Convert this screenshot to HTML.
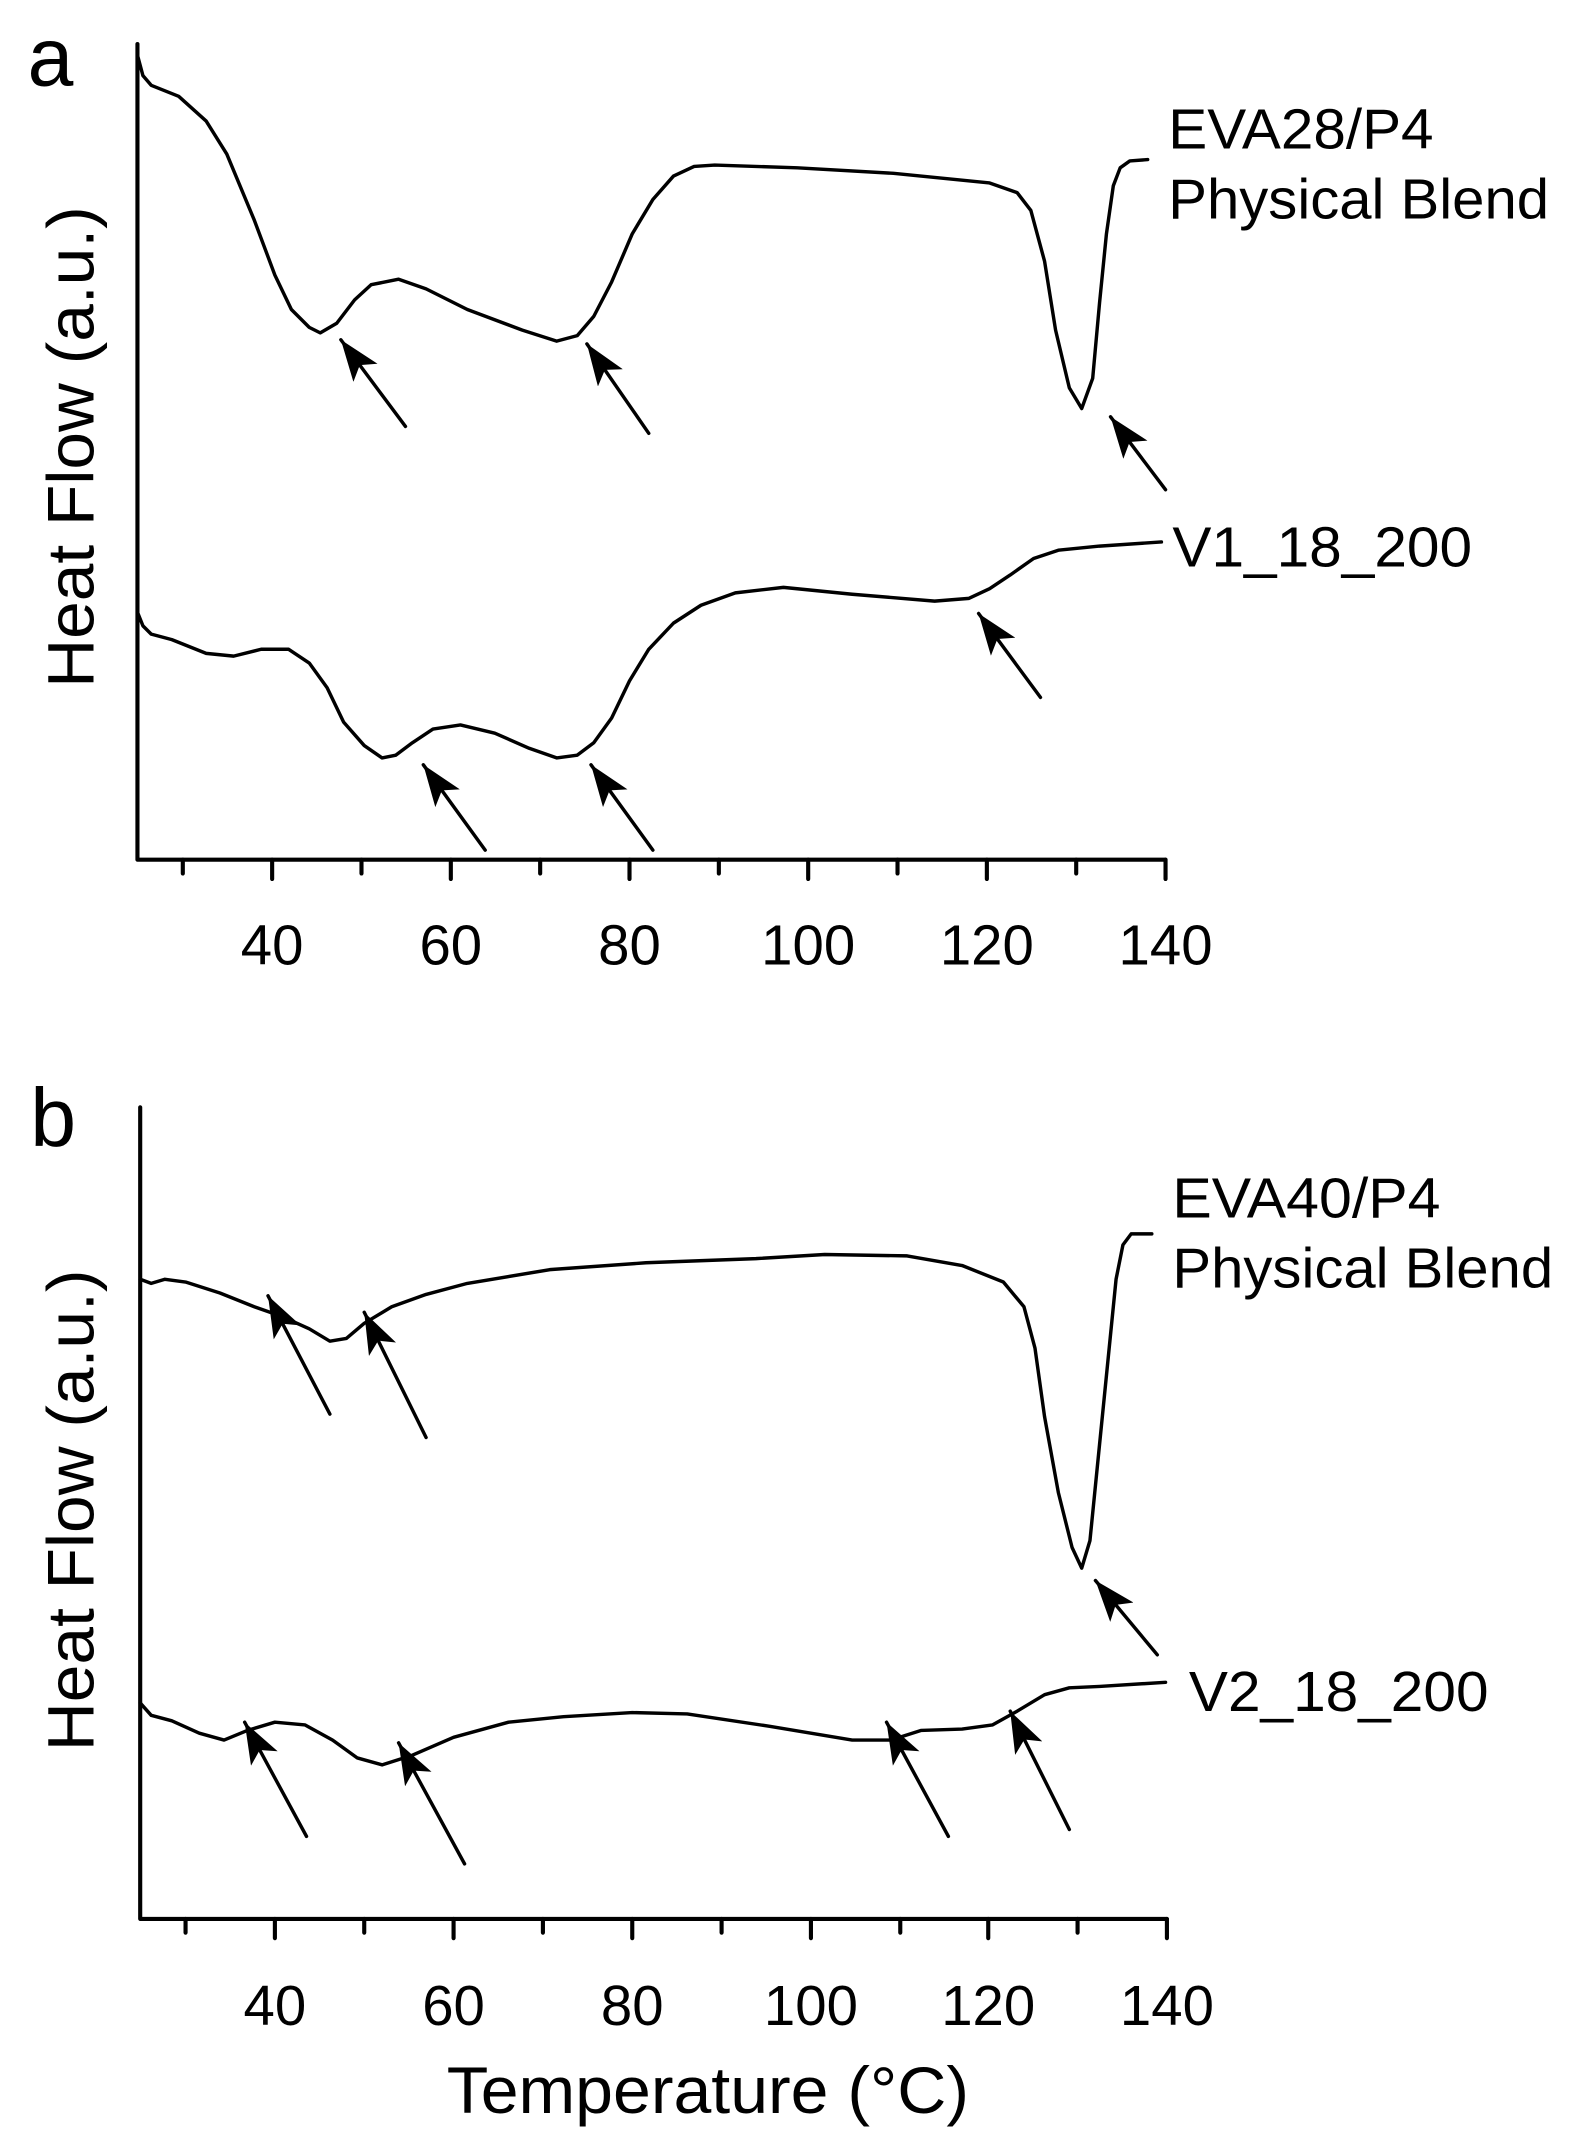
<!DOCTYPE html>
<html><head><meta charset="utf-8"><style>
html,body{margin:0;padding:0;background:#fff}
svg{display:block}
text{font-family:"Liberation Sans",sans-serif;fill:#000}
</style></head><body>
<svg width="1593" height="2150" viewBox="0 0 1159 1563" preserveAspectRatio="none" xmlns="http://www.w3.org/2000/svg">
<defs>
<marker id="a2" viewBox="0 0 30 22" refX="0" refY="11" markerWidth="30" markerHeight="22" orient="auto" markerUnits="userSpaceOnUse"><path d="M0,11 L30,0 L23,11 L30,22 Z" fill="#000"/></marker></defs>
<g fill="none" stroke="#000" stroke-width="2.5" stroke-linejoin="round" stroke-linecap="round">
<!-- panel a axes -->
<path d="M100,32 V625 H848" stroke-width="3"/>
<path d="M133,625v10 M198,625v14 M263,625v10 M328,625v14 M393,625v10 M458,625v14 M523,625v10 M588,625v14 M653,625v10 M718,625v14 M783,625v10 M848,625v14" stroke-width="3"/>
<polyline points="100,40 104,55 110,62 130,70 150,88 165,112 185,160 200,200 212,225 225,238 233,242 245,235 258,218 270,207 290,203 310,210 340,225 380,240 405,248 420,244 432,230 445,205 460,170 475,145 490,128 505,121 520,120 580,122 650,126 720,133 740,140 750,153 760,190 768,240 778,282 787,297 795,275 800,220 805,170 810,135 815,122 822,117 835,116"/>
<polyline points="100,445 104,455 110,461 125,465 150,475 170,477 190,472 210,472 225,482 238,500 250,525 265,542 278,551 288,549 300,540 315,530 335,527 360,533 385,544 405,551 420,549 432,540 445,522 458,495 472,472 490,453 510,440 535,431 570,427 620,432 680,437 705,435 720,428 735,418 752,406 770,400 800,397 845,394"/>
<!-- panel b axes -->
<path d="M102,805 V1395 H849" stroke-width="3"/>
<path d="M135,1395v10 M200,1395v14 M265,1395v10 M330,1395v14 M395,1395v10 M460,1395v14 M525,1395v10 M590,1395v14 M655,1395v10 M719,1395v14 M784,1395v10 M849,1395v14" stroke-width="3"/>
<polyline points="102,930 110,933 120,930 135,932 160,940 185,950 205,957 225,966 240,975 252,973 265,962 285,950 310,941 340,933 400,923 470,918 550,915 600,912 660,913 700,920 730,932 745,950 753,980 760,1030 770,1085 780,1125 787,1140 793,1120 800,1050 806,990 812,930 817,905 823,897 838,897"/>
<polyline points="102,1238 110,1247 125,1251 145,1260 163,1265 180,1258 200,1252 222,1254 242,1265 260,1278 278,1283 300,1276 330,1263 370,1252 410,1248 460,1245 500,1246 560,1255 620,1265 648,1265 670,1258 700,1257 722,1254 740,1244 760,1232 778,1227 800,1226 848,1223"/>
<!-- arrows -->
<g stroke-width="2.5" marker-start="url(#a2)">
<line x1="248" y1="247" x2="295" y2="310"/>
<line x1="427" y1="250" x2="472" y2="315"/>
<line x1="808" y1="303" x2="848" y2="356"/>
<line x1="308" y1="556" x2="353" y2="618"/>
<line x1="430" y1="556" x2="475" y2="618"/>
<line x1="712" y1="446" x2="757" y2="507"/>
<line x1="195" y1="942" x2="240" y2="1028"/>
<line x1="265" y1="954" x2="310" y2="1045"/>
<line x1="797" y1="1149" x2="842" y2="1203"/>
<line x1="178" y1="1252" x2="223" y2="1335"/>
<line x1="290" y1="1267" x2="338" y2="1355"/>
<line x1="645" y1="1252" x2="690" y2="1335"/>
<line x1="735" y1="1244" x2="778" y2="1330"/>
</g>
</g>
<!-- text -->
<g font-size="41">
<text x="198" y="701" text-anchor="middle">40</text>
<text x="328" y="701" text-anchor="middle">60</text>
<text x="458" y="701" text-anchor="middle">80</text>
<text x="588" y="701" text-anchor="middle">100</text>
<text x="718" y="701" text-anchor="middle">120</text>
<text x="848" y="701" text-anchor="middle">140</text>
<text x="200" y="1472" text-anchor="middle">40</text>
<text x="330" y="1472" text-anchor="middle">60</text>
<text x="460" y="1472" text-anchor="middle">80</text>
<text x="590" y="1472" text-anchor="middle">100</text>
<text x="719" y="1472" text-anchor="middle">120</text>
<text x="849" y="1472" text-anchor="middle">140</text>
<text x="850" y="108" textLength="193" lengthAdjust="spacingAndGlyphs">EVA28/P4</text>
<text x="850" y="159" textLength="277" lengthAdjust="spacingAndGlyphs">Physical Blend</text>
<text x="853" y="412" textLength="218" lengthAdjust="spacingAndGlyphs">V1_18_200</text>
<text x="853" y="885" textLength="195" lengthAdjust="spacingAndGlyphs">EVA40/P4</text>
<text x="853" y="936" textLength="277" lengthAdjust="spacingAndGlyphs">Physical Blend</text>
<text x="865" y="1244" textLength="218" lengthAdjust="spacingAndGlyphs">V2_18_200</text>
</g>
<g font-size="48">
<text transform="translate(68,325) rotate(-90)" text-anchor="middle" textLength="350" lengthAdjust="spacingAndGlyphs">Heat Flow (a.u.)</text>
<text transform="translate(68,1098) rotate(-90)" text-anchor="middle" textLength="350" lengthAdjust="spacingAndGlyphs">Heat Flow (a.u.)</text>
<text x="515" y="1536" text-anchor="middle" textLength="380" lengthAdjust="spacingAndGlyphs">Temperature (°C)</text>
</g>
<text x="20" y="62" font-size="60">a</text>
<text x="22" y="833" font-size="60">b</text>
</svg>
</body></html>
